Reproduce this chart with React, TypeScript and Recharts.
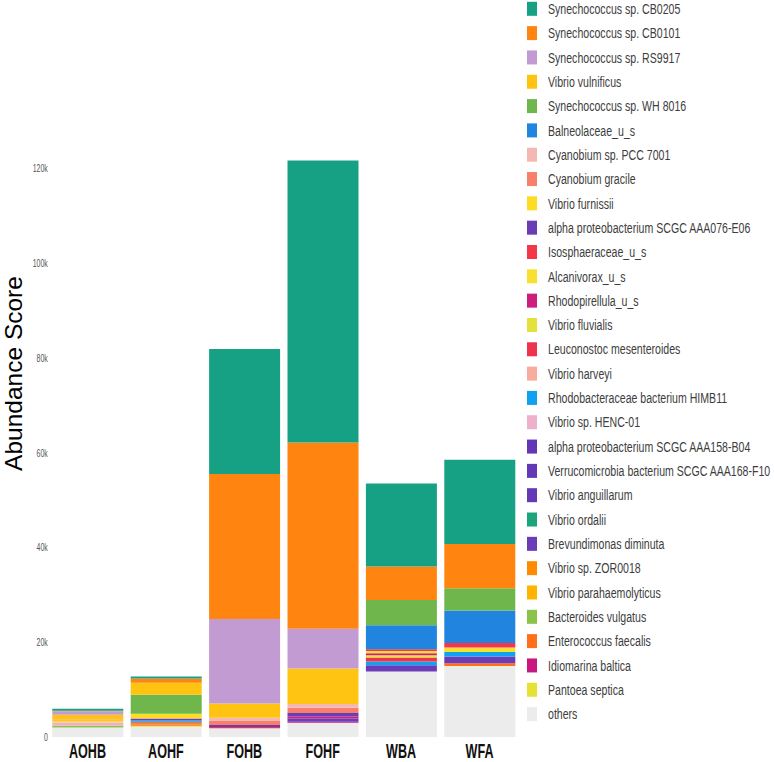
import { Bar, BarChart, Legend, XAxis, YAxis } from "recharts";

const CATEGORIES = ["AOHB", "AOHF", "FOHB", "FOHF", "WBA", "WFA"];

// legend order = top of the stack first
const SPECIES = [
  "Synechococcus sp. CB0205",
  "Synechococcus sp. CB0101",
  "Synechococcus sp. RS9917",
  "Vibrio vulnificus",
  "Synechococcus sp. WH 8016",
  "Balneolaceae_u_s",
  "Cyanobium sp. PCC 7001",
  "Cyanobium gracile",
  "Vibrio furnissii",
  "alpha proteobacterium SCGC AAA076-E06",
  "Isosphaeraceae_u_s",
  "Alcanivorax_u_s",
  "Rhodopirellula_u_s",
  "Vibrio fluvialis",
  "Leuconostoc mesenteroides",
  "Vibrio harveyi",
  "Rhodobacteraceae bacterium HIMB11",
  "Vibrio sp. HENC-01",
  "alpha proteobacterium SCGC AAA158-B04",
  "Verrucomicrobia bacterium SCGC AAA168-F10",
  "Vibrio anguillarum",
  "Vibrio ordalii",
  "Brevundimonas diminuta",
  "Vibrio sp. ZOR0018",
  "Vibrio parahaemolyticus",
  "Bacteroides vulgatus",
  "Enterococcus faecalis",
  "Idiomarina baltica",
  "Pantoea septica",
  "others",
];

const COLORS = [
  "#17a184", "#ff8410", "#c39bd3", "#ffc312", "#6fb74c", "#2185e0",
  "#f5b7b1", "#f8806a", "#fddc23", "#6a3cb5", "#f3364a", "#f9e030",
  "#cc1e7a", "#e4e23a", "#f0334c", "#f8aca0", "#10a2f0", "#eeb0cb",
  "#6435b5", "#6139b6", "#6439b5", "#1aa67a", "#6b3bb8", "#ff8c00",
  "#ffb400", "#8bc34a", "#ff6f1c", "#c8187f", "#e6e232", "#ececec",
];

// values per sample, same order as SPECIES
const AOHB = [420, 100, 700, 1050, 0, 0, 0, 200, 420, 0, 0, 0, 0, 0, 0, 0, 0, 700, 0, 0, 0, 0, 0, 0, 0, 350, 0, 0, 0, 2000];
const AOHF = [420, 900, 0, 2530, 4010, 0, 0, 0, 1050, 350, 0, 0, 0, 0, 0, 0, 250, 0, 0, 0, 0, 0, 200, 400, 0, 0, 300, 0, 200, 2180];
const FOHB = [26400, 30600, 17800, 3000, 0, 0, 690, 850, 0, 450, 0, 0, 0, 0, 250, 0, 0, 0, 0, 0, 0, 0, 0, 0, 0, 0, 0, 0, 0, 1840];
const FOHF = [59500, 39300, 8400, 7500, 0, 0, 800, 1100, 0, 700, 0, 0, 450, 0, 0, 0, 0, 0, 0, 0, 0, 0, 700, 0, 0, 0, 0, 200, 0, 3000];
const WBA = [17500, 7100, 0, 0, 5300, 5100, 0, 0, 0, 0, 350, 490, 420, 490, 840, 0, 780, 0, 0, 0, 0, 0, 1330, 0, 0, 0, 0, 0, 0, 13800];
const WFA = [17800, 9300, 0, 0, 4700, 6900, 0, 0, 0, 0, 900, 1000, 0, 0, 0, 0, 950, 0, 0, 0, 0, 0, 1390, 0, 0, 0, 570, 0, 0, 15000];

const SAMPLES = [AOHB, AOHF, FOHB, FOHF, WBA, WFA];
const Y_TICKS = [0, 20000, 40000, 60000, 80000, 100000, 120000];

const data = CATEGORIES.map((sample, ci) => {
  const row: Record<string, number | string> = { sample };
  SPECIES.forEach((_, si) => {
    row[`s${si}`] = SAMPLES[ci][si];
  });
  return row;
});

const FONT = '"Liberation Sans", Arial, sans-serif';

function YTick({ x, y, payload }: any) {
  const label = payload.value === 0 ? "0" : `${payload.value / 1000}k`;
  return (
    <text
      transform={`translate(${x - 0.5},${y + 4}) scale(0.63,1)`}
      textAnchor="end"
      fontSize={11}
      fontFamily={FONT}
      fill="#555"
    >
      {label}
    </text>
  );
}

function XTick({ x, y, payload }: any) {
  return (
    <text
      transform={`translate(${x},${y + 20.5}) scale(0.63,1)`}
      textAnchor="middle"
      fontSize={20}
      fontWeight="bold"
      fontFamily={FONT}
      fill="#111"
    >
      {payload.value}
    </text>
  );
}

function YTitle() {
  return (
    <text
      transform="translate(22,373.5) rotate(-90)"
      textAnchor="middle"
      fontSize={24.5}
      fontFamily={FONT}
      fill="#000"
    >
      Abundance Score
    </text>
  );
}

function SpeciesLegend() {
  return (
    <svg width={774} height={762} style={{ display: "block" }}>
      {SPECIES.map((name, i) => {
        const cy = 8.8 + i * 24.32;
        return (
          <g key={name}>
            <rect x={527} y={cy - 7} width={10} height={14} fill={COLORS[i]} />
            <text
              transform={`translate(548,${cy + 5.2}) scale(0.73,1)`}
              fontSize={14.5}
              fontFamily={FONT}
              fill="#3d3d3d"
            >
              {name}
            </text>
          </g>
        );
      })}
    </svg>
  );
}

export default function App() {
  const order = SPECIES.map((_, i) => i).reverse();
  return (
    <div style={{ position: "absolute", left: 0, top: 0, width: 774, height: 762, background: "#fff" }}>
      <BarChart
        width={774}
        height={762}
        data={data}
        margin={{ top: 120.9, right: 255.3, bottom: 0, left: 0 }}
      >
        <XAxis
          dataKey="sample"
          height={25}
          axisLine={false}
          tickLine={false}
          tickSize={0}
          tickMargin={0}
          tick={<XTick />}
          interval={0}
        />
        <YAxis
          width={48.3}
          domain={[0, 130000]}
          ticks={Y_TICKS}
          axisLine={false}
          tickLine={false}
          tickSize={0}
          tickMargin={0}
          tick={<YTick />}
          label={{ content: <YTitle /> }}
        />
        <Legend
          layout="vertical"
          align="center"
          verticalAlign="middle"
          wrapperStyle={{ position: "absolute", left: 0, top: 0, width: 774, height: 762, pointerEvents: "none" }}
          content={() => <SpeciesLegend />}
        />
        {order.map((i) => (
          <Bar
            key={i}
            dataKey={`s${i}`}
            name={SPECIES[i]}
            stackId="a"
            fill={COLORS[i]}
            barSize={71}
            isAnimationActive={false}
          />
        ))}
      </BarChart>
    </div>
  );
}
